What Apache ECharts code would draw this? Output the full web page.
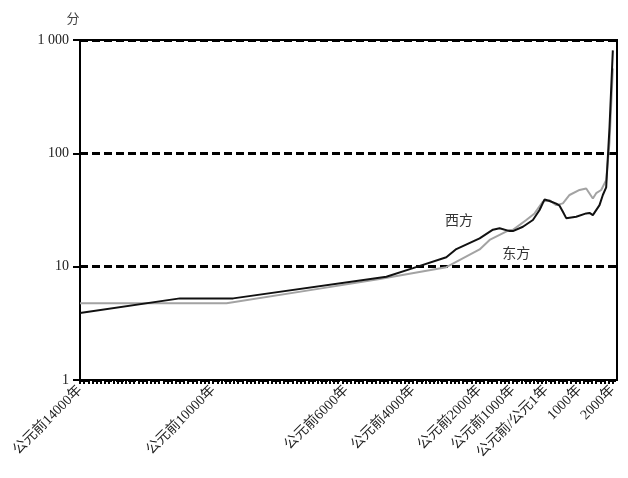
<!DOCTYPE html>
<html>
<head>
<meta charset="utf-8">
<script src="https://cdn.jsdelivr.net/npm/echarts@6/dist/echarts.min.js"></script>
<style>html,body{margin:0;padding:0;background:#fff}#c{width:628px;height:478px}</style>
</head>
<body>
<div id="c"></div>
<script>
const westYears  = [-14000,-11000,-9400,-4800,-4000,-3000,-2700,-2000,-1600,-1400,-1100,-1000,-700,-400,-200,-50,100,300,400,500,600,900,1200,1300,1400,1600,1700,1800,1900,2000];
const westValues = [3.9,5.25,5.25,8.15,9.7,12.1,14.3,17.8,21.2,21.8,20.6,20.6,22.5,25.8,31.6,39.2,38.0,36.0,34.5,30.5,26.8,27.6,29.5,29.8,28.5,34.9,42.9,50,170,810];
const eastYears  = [-14000,-9600,-6800,-5000,-3000,-2000,-1700,-1100,-1000,-600,-350,-100,100,300,500,700,1000,1200,1400,1500,1650,1800,1900,2000];
const eastValues = [4.75,4.75,6.4,7.8,9.9,14.2,17.2,21.1,21.1,25.8,29.5,37.5,38.6,34.9,36.2,42.9,47.5,49,40,44.5,47.5,58,125,560];
const tickYears  = [-14000,-10000,-6000,-4000,-2000,-1000,0,1000,2000];
const tickLabels = ['公元前14000年','公元前10000年','公元前6000年','公元前4000年','公元前2000年','公元前1000年','公元前/公元1年','1000年','2000年'];
const seriesNames = ['西方','东方'];
const yUnit = '分';

const FONT = "'Liberation Serif','Noto Sans CJK SC',serif";
const pair = (xs, ys) => xs.map((x, i) => [x, ys[i]]);

const chart = echarts.init(document.getElementById('c'));
chart.setOption({
  animation: false,
  backgroundColor: '#fff',
  grid: {left: 80, right: 11, top: 40, bottom: 98, containLabel: false, outerBoundsMode: 'none',
         show: true, borderColor: '#000', borderWidth: 2, backgroundColor: 'transparent'},
  xAxis: {
    type: 'value', min: -14000, max: 2125, interval: 125,
    axisLine: {show: true, onZero: false, lineStyle: {color: '#000', width: 2}},
    axisTick: {show: true, length: 4, lineStyle: {color: '#000', width: 2}},
    splitLine: {show: false},
    axisLabel: {
      rotate: 45, margin: 8, color: '#222', fontSize: 14, fontFamily: FONT,
      showMinLabel: true, showMaxLabel: false, hideOverlap: false,
      formatter: v => { const i = tickYears.indexOf(v); return i >= 0 ? tickLabels[i] : ''; }
    }
  },
  yAxis: [{
    type: 'log', logBase: 10, min: 1, max: 1000,
    name: yUnit, nameLocation: 'end', nameGap: 14,
    nameTextStyle: {color: '#444', fontSize: 13, fontFamily: FONT, align: 'center', padding: [0, 14, 0, 0]},
    axisLine: {show: true, onZero: false, lineStyle: {color: '#000', width: 2}},
    axisTick: {show: true, inside: false, length: 7, lineStyle: {color: '#000', width: 2}},
    axisLabel: {color: '#222', fontSize: 14, fontFamily: FONT, margin: 11,
      formatter: v => v >= 1000 ? String(v).replace(/(\d)(?=(\d{3})+$)/g, '$1 ') : String(v)},
    splitLine: {show: true, lineStyle: {color: '#000', width: 3, type: [8, 4]}}
  }, {
    type: 'value', min: 0, max: 3, interval: 1, position: 'left', offset: 0,
    axisLine: {show: false, onZero: false},
    axisTick: {show: true, inside: false, length: 7, lineStyle: {color: '#000', width: 2}},
    axisLabel: {show: false},
    splitLine: {show: false}
  }],
  series: [
    {
      name: seriesNames[1], type: 'line', data: pair(eastYears, eastValues),
      showSymbol: false, symbol: 'none', smooth: false, z: 3,
      lineStyle: {color: '#a3a3a3', width: 2},
      markPoint: {symbolSize: 0, silent: true,
        label: {show: true, formatter: seriesNames[1], color: '#333', fontSize: 14, fontFamily: FONT, position: 'inside'},
        data: [{coord: [-900, 12.9]}]}
    },
    {
      name: seriesNames[0], type: 'line', data: pair(westYears, westValues),
      showSymbol: false, symbol: 'none', smooth: false, z: 4,
      lineStyle: {color: '#111', width: 2},
      markPoint: {symbolSize: 0, silent: true,
        label: {show: true, formatter: seriesNames[0], color: '#333', fontSize: 14, fontFamily: FONT, position: 'inside'},
        data: [{coord: [-2620, 25.3]}]}
    }
  ]
});
</script>
</body>
</html>
